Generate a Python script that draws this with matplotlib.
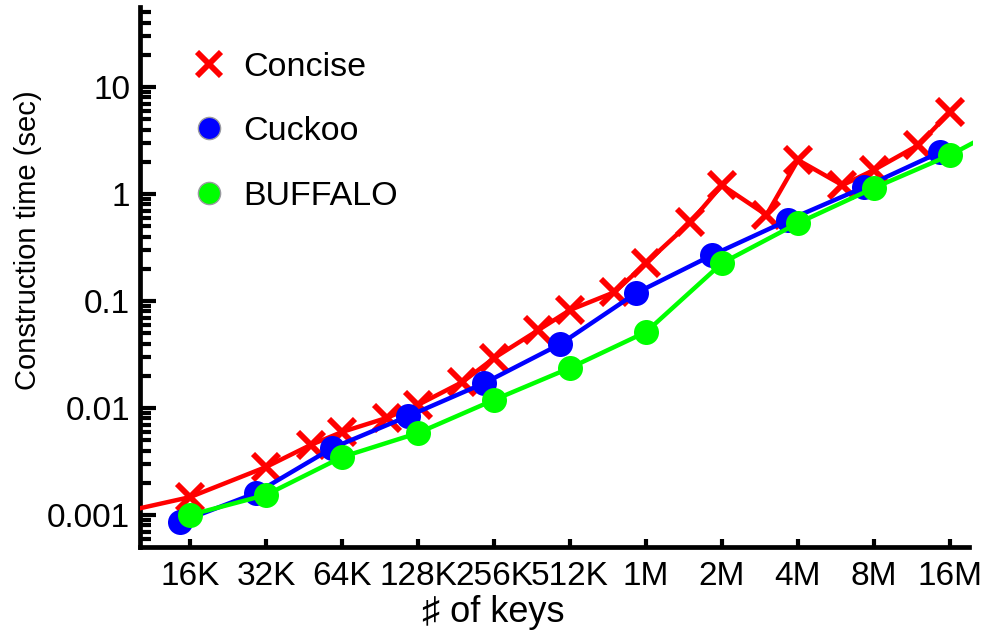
import matplotlib
matplotlib.use('Agg')
import matplotlib.pyplot as plt
from matplotlib.lines import Line2D
from matplotlib.ticker import LogLocator, NullFormatter

plt.rcParams['font.family'] = ['Liberation Sans', 'DejaVu Sans']

K = 1024
M = 1024 * 1024

# construction time (sec) vs number of keys
concise_keys = [8*K, 16*K, 32*K, 48*K, 64*K, 96*K, 128*K, 192*K, 256*K, 384*K,
                512*K, 768*K, 1*M, 1.5*M, 2*M, 3*M, 4*M, 6*M, 8*M, 12*M, 16*M]
concise_time = [0.00102, 0.00147, 0.00281, 0.00451, 0.00597, 0.00807, 0.0107,
                0.0175, 0.0293, 0.0536, 0.0824, 0.121, 0.226, 0.547, 1.21,
                0.637, 2.08, 1.21, 1.68, 2.87, 5.84]

cuckoo_keys = [15e3, 30e3, 60e3, 120e3, 240e3, 480e3, 960e3, 1.92e6, 3.84e6,
               7.68e6, 15.36e6]
cuckoo_time = [0.00086, 0.00161, 0.00423, 0.0084, 0.0171, 0.0396, 0.119,
               0.269, 0.571, 1.16, 2.47]

buffalo_keys = [16*K, 32*K, 64*K, 128*K, 256*K, 512*K, 1*M, 2*M, 4*M, 8*M,
                16*M, 32*M]
buffalo_time = [0.001, 0.00154, 0.00348, 0.00584, 0.0119, 0.0237, 0.0513,
                0.226, 0.535, 1.14, 2.31, 5.5]

tick_keys = [16*K, 32*K, 64*K, 128*K, 256*K, 512*K, 1*M, 2*M, 4*M, 8*M, 16*M]
tick_labels = ['16K', '32K', '64K', '128K', '256K', '512K', '1M', '2M', '4M',
               '8M', '16M']
ytick_vals = [0.001, 0.01, 0.1, 1, 10]
ytick_labels = ['0.001', '0.01', '0.1', '1', '10']

RED, BLUE, GREEN = '#ff0000', '#0000ff', '#00ff00'

fig = plt.figure(figsize=(9.88, 6.39), dpi=100)
ax = fig.add_axes([140/988, 1 - 547/639, 833/988, 540/639])

ax.plot(concise_keys, concise_time, color=RED, lw=3.2, marker='x',
        markersize=19, markeredgewidth=4.2, zorder=3)
ax.plot(cuckoo_keys, cuckoo_time, color=BLUE, lw=3.2, marker='o',
        markersize=18, markeredgewidth=0, zorder=4)
ax.plot(buffalo_keys, buffalo_time, color=GREEN, lw=3.2, marker='o',
        markersize=18, markeredgewidth=0, zorder=5)

ax.set_xscale('log', base=2)
ax.set_yscale('log')
ax.set_xlim(2**13.341, 2**24.303)
ax.set_ylim(5.02e-4, 56.0)

ax.set_xticks(tick_keys)
ax.set_xticklabels(tick_labels)
ax.xaxis.set_minor_locator(plt.NullLocator())
ax.set_yticks(ytick_vals)
ax.set_yticklabels(ytick_labels)
ax.yaxis.set_minor_locator(LogLocator(base=10, subs=range(2, 10), numticks=20))
ax.yaxis.set_minor_formatter(NullFormatter())

for side in ('top', 'right'):
    ax.spines[side].set_visible(False)
for side in ('left', 'bottom'):
    ax.spines[side].set_linewidth(3.4)
ax.spines['bottom'].set_bounds(2**13.341, 2**24.25)

ax.tick_params(axis='x', which='major', direction='in', length=6, width=3,
               labelsize=24, pad=10)
ax.tick_params(axis='y', which='major', direction='in', length=11.5, width=3,
               labelsize=24, pad=7)
ax.tick_params(axis='y', which='minor', direction='in', length=8, width=3)

ax.set_xlabel('\u266f of keys', fontsize=26)
ax.xaxis.set_label_coords(0.424, -0.088)
ax.set_ylabel('Construction time (sec)', fontsize=21)
ax.yaxis.set_label_coords(-0.118, 0.569)

handles = [
    Line2D([], [], ls='none', marker='x', color=RED, markersize=17,
           markeredgewidth=4.2),
    Line2D([], [], ls='none', marker='o', markerfacecolor=BLUE,
           markeredgecolor='#9a9aa0', markeredgewidth=1, markersize=16),
    Line2D([], [], ls='none', marker='o', markerfacecolor=GREEN,
           markeredgecolor='#9a9aa0', markeredgewidth=1, markersize=16),
]
ax.legend(handles, ['Concise', 'Cuckoo', 'BUFFALO'], loc='upper left',
          bbox_to_anchor=(0.046, 0.942), frameon=False, fontsize=24.5,
          handlelength=1.0, handletextpad=0.5, labelspacing=0.98,
          borderaxespad=0)

fig.savefig('out.png', dpi=100)
